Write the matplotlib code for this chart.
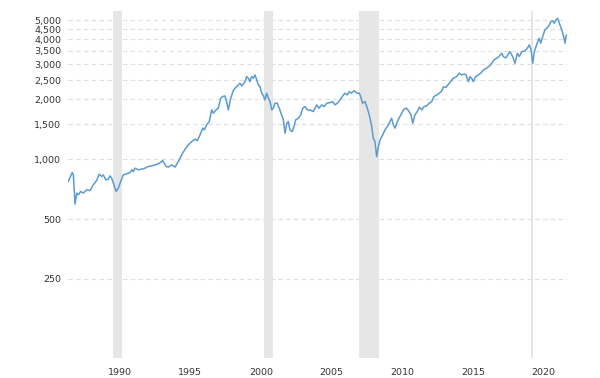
import numpy as np
import matplotlib
matplotlib.use("Agg")
import matplotlib.pyplot as plt
from matplotlib.ticker import FixedLocator, FixedFormatter, NullLocator

# values (x in the chart's own year frame)
years = [1986.37, 1986.65, 1986.73, 1986.85, 1986.97, 1987.08, 1987.25, 1987.43, 1987.67, 1987.91,
         1988.14, 1988.38, 1988.56, 1988.73, 1988.85, 1989.02, 1989.20, 1989.32, 1989.44, 1989.60,
         1989.75, 1989.91, 1990.08, 1990.26, 1990.50, 1990.74, 1990.86, 1990.97, 1991.09, 1991.32,
         1991.56, 1991.80, 1992.03, 1992.27, 1992.50, 1992.74, 1992.98, 1993.03, 1993.28, 1993.44,
         1993.68, 1993.92, 1994.15, 1994.39, 1994.63, 1994.86, 1995.10, 1995.33, 1995.50, 1995.69,
         1995.88, 1995.99, 1996.16, 1996.34, 1996.51, 1996.63, 1996.82, 1996.98, 1997.15, 1997.29,
         1997.45, 1997.57, 1997.69, 1997.86, 1998.04, 1998.23, 1998.39, 1998.51, 1998.64, 1998.87,
         1998.99, 1999.10, 1999.22, 1999.34, 1999.46, 1999.58, 1999.70, 1999.81, 1999.93, 2000.05,
         2000.16, 2000.28, 2000.40, 2000.52, 2000.64, 2000.76, 2000.87, 2000.99, 2001.15, 2001.29,
         2001.46, 2001.58, 2001.70, 2001.82, 2001.93, 2002.05, 2002.21, 2002.33, 2002.45, 2002.64,
         2002.81, 2002.95, 2003.11, 2003.28, 2003.47, 2003.70, 2003.94, 2004.10, 2004.29, 2004.46,
         2004.65, 2004.88, 2005.07, 2005.23, 2005.40, 2005.59, 2005.78, 2005.94, 2006.10, 2006.24,
         2006.41, 2006.58, 2006.77, 2006.95, 2007.05, 2007.19, 2007.36, 2007.48, 2007.59, 2007.71,
         2007.83, 2007.94, 2008.06, 2008.18, 2008.30, 2008.42, 2008.61, 2008.77, 2008.93, 2009.07,
         2009.24, 2009.36, 2009.48, 2009.60, 2009.76, 2009.95, 2010.11, 2010.30, 2010.47, 2010.61,
         2010.73, 2010.89, 2011.05, 2011.20, 2011.37, 2011.53, 2011.72, 2011.90, 2012.07, 2012.23,
         2012.43, 2012.61, 2012.78, 2012.89, 2013.08, 2013.25, 2013.42, 2013.60, 2013.84, 2014.02,
         2014.19, 2014.36, 2014.50, 2014.66, 2014.78, 2014.90, 2015.01, 2015.18, 2015.37, 2015.54,
         2015.72, 2015.96, 2016.15, 2016.32, 2016.48, 2016.67, 2016.83, 2017.02, 2017.14, 2017.31,
         2017.42, 2017.61, 2017.80, 2017.96, 2018.13, 2018.27, 2018.44, 2018.67, 2018.83, 2018.97,
         2019.10, 2019.22, 2019.33, 2019.45, 2019.57, 2019.68, 2019.78, 2019.92, 2020.08, 2020.25,
         2020.39, 2020.49, 2020.63, 2020.74, 2020.86, 2020.98, 2021.10, 2021.19, 2021.31, 2021.43,
         2021.50, 2021.57, 2021.62]
values = [772, 856, 834, 594, 675, 662, 688, 675, 701, 695,
          743, 781, 841, 818, 834, 787, 793, 824, 803, 743,
          688, 715, 772, 834, 844, 856, 884, 866, 901, 884,
          891, 901, 918, 925, 936, 947, 973, 986, 920, 912,
          936, 912, 973, 1051, 1123, 1180, 1226, 1260, 1240, 1325,
          1432, 1404, 1487, 1545, 1769, 1703, 1769, 1804, 2026, 2064,
          2080, 1947, 1769, 2026, 2212, 2300, 2362, 2409, 2334, 2454,
          2601, 2553, 2454, 2601, 2553, 2652, 2503, 2362, 2316, 2146,
          2092, 1986, 2146, 2026, 1947, 1769, 1804, 1911, 1911, 1804,
          1670, 1576, 1351, 1517, 1545, 1404, 1376, 1458, 1576, 1607,
          1670, 1804, 1838, 1769, 1769, 1735, 1875, 1804, 1875, 1838,
          1911, 1925, 1947, 1875, 1911, 1986, 2080, 2146, 2104, 2187,
          2146, 2212, 2146, 2146, 2064, 1911, 1947, 1838, 1735, 1607,
          1458, 1275, 1226, 1031, 1157, 1250, 1325, 1404, 1458, 1517,
          1607, 1487, 1432, 1517, 1607, 1703, 1784, 1804, 1735, 1670,
          1517, 1670, 1735, 1825, 1769, 1838, 1853, 1911, 1947, 2064,
          2104, 2146, 2199, 2308, 2300, 2376, 2454, 2553, 2601, 2705,
          2652, 2683, 2652, 2454, 2601, 2553, 2454, 2601, 2652, 2705,
          2810, 2866, 2943, 3036, 3155, 3218, 3279, 3410, 3279, 3229,
          3316, 3472, 3279, 3036, 3410, 3279, 3472, 3500, 3612, 3752,
          3541, 3036, 3472, 3679, 3899, 4055, 3827, 4131, 4464, 4585,
          4731, 4915, 4955, 4825, 5012, 5111, 4825, 4638, 4377, 4055,
          3827, 4179, 4213]

# recession bands as they sit on the chart
recession_start = [1989.53, 2000.21, 2006.93, 2019.13]
recession_end = [1990.17, 2000.83, 2008.34, 2019.25]

y_ticks = [250, 500, 1000, 1500, 2000, 2500, 3000, 3500, 4000, 4500, 5000]
y_labels = ["250", "500", "1,000", "1,500", "2,000", "2,500", "3,000", "3,500",
            "4,000", "4,500", "5,000"]
x_ticks = [1990, 1995, 2000, 2005, 2010, 2015, 2020]

fig = plt.figure(figsize=(6, 3.78), dpi=100)
ax = fig.add_axes([0.1133, 0.0529, 0.8312, 0.918])

ax.set_yscale("log")
ax.set_xlim(1986.35, 2021.62)
ax.set_ylim(100, 5560)

for s, e in zip(recession_start, recession_end):
    ax.axvspan(s, e, color="#e6e6e6", lw=0, zorder=1)

ax.plot(years, values, color="#5b9bd0", lw=1.1, zorder=3)

ax.yaxis.set_major_locator(FixedLocator(y_ticks))
ax.yaxis.set_major_formatter(FixedFormatter(y_labels))
ax.yaxis.set_minor_locator(NullLocator())
ax.set_xticks(x_ticks)
ax.set_xticklabels([str(x) for x in x_ticks])

ax.grid(axis="y", color="#dddddd", linestyle=(0, (4, 3)), lw=0.8, zorder=0)
ax.set_axisbelow(True)
for sp in ax.spines.values():
    sp.set_visible(False)
ax.tick_params(axis="both", length=0, labelsize=6.8, colors="#333333")
ax.tick_params(axis="y", pad=5)
ax.tick_params(axis="x", pad=7)

fig.savefig("out.png", dpi=100)
